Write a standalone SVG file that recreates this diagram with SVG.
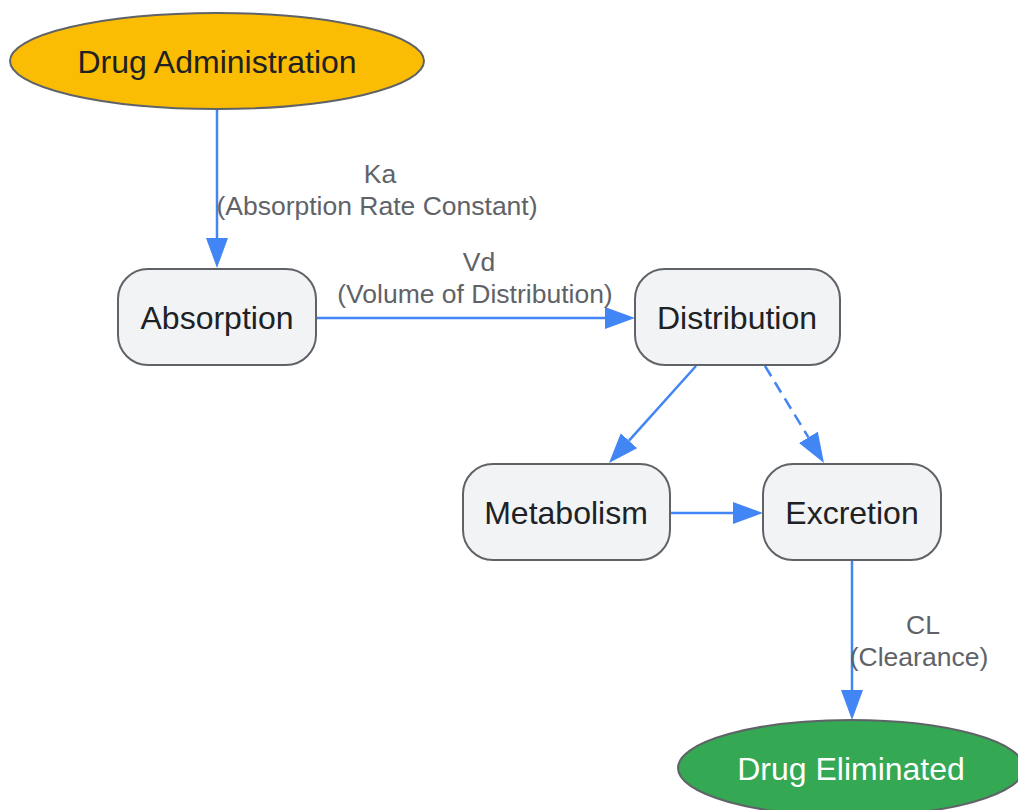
<svg xmlns="http://www.w3.org/2000/svg" width="1018" height="810" viewBox="0 0 1018 810">
<style>
.node{fill:#f1f3f4;stroke:#5f6368;stroke-width:2}
.ntext{font-family:"Liberation Sans",Arial,sans-serif;font-size:32px;fill:#202124;text-anchor:middle;dominant-baseline:central}
.ltext{font-family:"Liberation Sans",Arial,sans-serif;font-size:26.5px;fill:#5f6368;text-anchor:middle;dominant-baseline:central}
.edge{stroke:#4285f4;stroke-width:2.5;fill:none}
</style>
<defs>
<marker id="arrow" markerUnits="userSpaceOnUse" markerWidth="32" markerHeight="24" refX="0" refY="11" orient="auto">
<path d="M0,0 L30,11 L0,22 z" fill="#4285f4"/>
</marker>
</defs>
<rect width="1018" height="810" fill="#ffffff"/>
<g id="connectors">
<line class="edge" x1="217" y1="109" x2="217" y2="238" marker-end="url(#arrow)"/>
<line class="edge" x1="316" y1="318" x2="605" y2="318" marker-end="url(#arrow)"/>
<line class="edge" x1="696" y1="366" x2="629" y2="440.7" marker-end="url(#arrow)"/>
<line class="edge" x1="765" y1="366" x2="808.4" y2="437.4" stroke-dasharray="12 7" marker-end="url(#arrow)"/>
<line class="edge" x1="670" y1="513" x2="733" y2="513" marker-end="url(#arrow)"/>
<line class="edge" x1="852" y1="560" x2="852" y2="690" marker-end="url(#arrow)"/>
<text class="ltext" x="380" y="174">Ka</text>
<text class="ltext" x="377" y="206">(Absorption Rate Constant)</text>
<text class="ltext" x="479" y="262">Vd</text>
<text class="ltext" x="475" y="294">(Volume of Distribution)</text>
<text class="ltext" x="923" y="625">CL</text>
<text class="ltext" x="919" y="657">(Clearance)</text>
</g>
<g id="drug-administration">
<ellipse cx="217" cy="61" rx="207" ry="48" fill="#fbbc04" stroke="#5f6368" stroke-width="2"/>
<text class="ntext" x="217" y="62">Drug Administration</text>
</g>
<g id="absorption">
<rect class="node" x="118" y="269" width="198" height="96" rx="30"/>
<text class="ntext" x="217" y="318">Absorption</text>
</g>
<g id="distribution">
<rect class="node" x="635" y="269" width="205" height="96" rx="30"/>
<text class="ntext" x="737" y="318">Distribution</text>
</g>
<g id="metabolism">
<rect class="node" x="463" y="464" width="207" height="96" rx="30"/>
<text class="ntext" x="566" y="513">Metabolism</text>
</g>
<g id="excretion">
<rect class="node" x="763" y="464" width="178" height="96" rx="30"/>
<text class="ntext" x="852" y="513">Excretion</text>
</g>
<g id="drug-eliminated">
<ellipse cx="851" cy="768" rx="173" ry="48" fill="#34a853" stroke="#5f6368" stroke-width="2"/>
<text class="ntext" x="851" y="769" style="fill:#ffffff">Drug Eliminated</text>
</g>
</svg>
